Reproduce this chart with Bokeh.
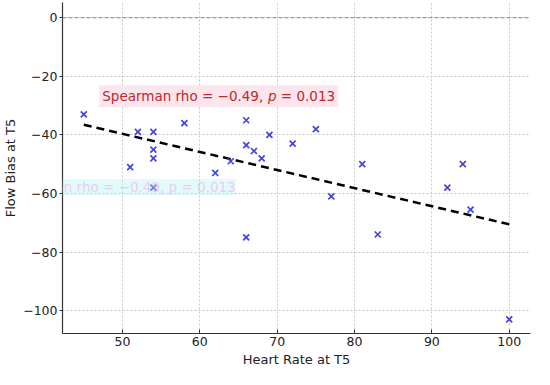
import numpy as np
from bokeh.plotting import figure
from bokeh.models import Span, Label, Range1d, FixedTicker
from bokeh.embed import file_html
from bokeh.resources import INLINE

heart_rate = [45, 51, 52, 54, 54, 54, 54, 58, 62, 64, 66, 66, 67, 68, 66,
              69, 72, 75, 81, 92, 94, 77, 83, 95, 100]
flow_bias = [-33, -51, -39, -39, -45, -48, -58, -36, -53, -49, -35, -43.5, -45.5, -48, -75,
             -40, -43, -38, -50, -58, -50, -61, -74, -65.5, -103]
x_ticks = [50, 60, 70, 80, 90, 100]
y_ticks = [0, -20, -40, -60, -80, -100]
stat_text = ["Spearman rho = \u22120.49,", "p", "= 0.013"]

FONT = "DejaVu Sans"

p = figure(width=534, height=369, output_backend="svg", toolbar_location=None,
           x_range=Range1d(42.25, 102.75), y_range=Range1d(-107.8, 5.2),
           min_border_left=60, min_border_right=4, min_border_top=2, min_border_bottom=34)
p.outline_line_color = None
p.background_fill_color = "white"

for g in (p.xgrid, p.ygrid):
    g.grid_line_color = "#c8c8c8"
    g.grid_line_dash = "2 2"
    g.grid_line_width = 1
p.xaxis.ticker = FixedTicker(ticks=x_ticks)
p.yaxis.ticker = FixedTicker(ticks=y_ticks)

for ax in (p.xaxis, p.yaxis):
    ax.axis_line_color = "#333333"
    ax.axis_line_width = 1.2
    ax.major_tick_line_color = "#333333"
    ax.minor_tick_line_color = None
    ax.major_label_text_font = FONT
    ax.major_label_text_font_size = "12.5px"
    ax.major_label_text_color = "#222222"
    ax.axis_label_text_font = FONT
    ax.axis_label_text_font_size = "13px"
    ax.axis_label_text_font_style = "normal"
    ax.axis_label_text_color = "#222222"

p.xaxis.major_tick_in = 4
p.xaxis.major_tick_out = 0
p.yaxis.major_tick_in = 0
p.yaxis.major_tick_out = 3
p.xaxis.major_label_standoff = 3
p.yaxis.major_label_standoff = 2
p.xaxis.axis_label = "Heart Rate at T5"
p.yaxis.axis_label = "Flow Bias at T5"
p.xaxis.axis_label_standoff = 3
p.yaxis.axis_label_standoff = 2

p.add_layout(Span(location=0, dimension="width", line_color="#8a8a8a",
                  line_dash="4 2", line_width=1))

xs = np.array(heart_rate, dtype=float)
ys = np.array(flow_bias, dtype=float)
slope, intercept = np.polyfit(xs, ys, 1)
lx = np.array([xs.min(), xs.max()])
p.line(lx, slope * lx + intercept, line_color="black", line_width=2.5, line_dash="8 5")

p.scatter(heart_rate, flow_bias, marker="x", size=8.5, line_color="#3030dc",
          line_width=1.7, line_alpha=0.9)

# faint ghost copy of the statistic seen in the reference
p.add_layout(Label(x=34.6, y=-57.8, text="Spearman rho = \u22120.49, p = 0.013",
                   text_font=FONT, text_font_size="13.5px", text_color="#f090ec",
                   text_alpha=0.45, text_baseline="middle",
                   background_fill_color="#aef2f2", background_fill_alpha=0.35))

offsets = [0, 165.8, 178.6]
styles = ["normal", "italic", "normal"]
for t, off, st in zip(stat_text, offsets, styles):
    p.add_layout(Label(x=47, y=-26.8, x_offset=off, text=t, text_font=FONT,
                       text_font_size="13.5px", text_font_style=st,
                       text_color="#c0282c", text_baseline="middle",
                       background_fill_color="#fce4ec", background_fill_alpha=0.95,
                       padding=3))

open("out.html", "w").write(file_html(p, INLINE))
